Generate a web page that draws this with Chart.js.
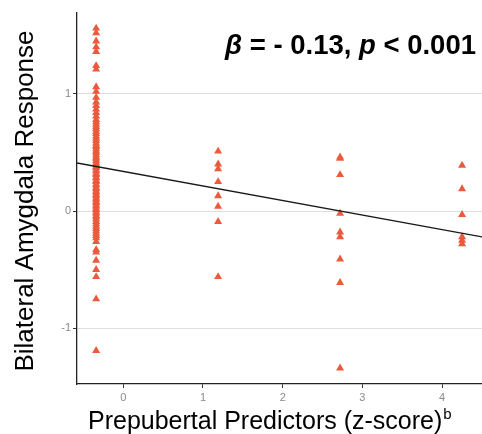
<!DOCTYPE html>
<html>
<head>
<meta charset="utf-8">
<script src="https://cdn.jsdelivr.net/npm/chart.js@4"></script>
<style>
  html, body { margin:0; padding:0; background:#ffffff; }
  #wrap { width:482px; height:434px; }
</style>
</head>
<body>
<div id="wrap"><canvas id="chartAmy" width="482" height="434"></canvas></div>
<script>
/* prepubertal predictors vs bilateral amygdala response */

const groupX = [-0.34, 1.19, 2.72, 4.25];

const responsesG1 = [
    1.56, 1.52, 1.45, 1.40, 1.36, 1.24, 1.21, 1.06, 1.02, 0.97, 0.93, 0.90, 0.87,
    0.84, 0.81, 0.78, 0.76, 0.74, 0.72, 0.70, 0.68, 0.66, 0.64, 0.62, 0.60,
    0.58, 0.56, 0.55, 0.53, 0.51, 0.50, 0.48, 0.46, 0.45, 0.43, 0.41, 0.40,
    0.38, 0.37, 0.35, 0.34, 0.32, 0.31, 0.29, 0.28, 0.26, 0.25, 0.23, 0.22,
    0.20, 0.19, 0.17, 0.16, 0.14, 0.13, 0.11, 0.10, 0.08, 0.07, 0.05, 0.04,
    0.02, 0.01, -0.01, -0.02, -0.04, -0.05, -0.07, -0.09, -0.11, -0.13, -0.15,
    -0.17, -0.19, -0.21, -0.23, -0.26, -0.33, -0.35, -0.42, -0.50, -0.56,
    -0.75, -1.19
];
const responsesG2 = [0.51, 0.40, 0.36, 0.25, 0.13, 0.04, -0.09, -0.56];
const responsesG3 = [0.46, 0.45, 0.31, -0.02, -0.18, -0.22, -0.41, -0.61, -1.34];
const responsesG4 = [0.39, 0.19, -0.03, -0.22, -0.25, -0.28];

const fitLine = [
    { x: -0.58, y: 0.41 },
    { x: 4.5, y: -0.22 }
];

const yTicks = [-1, 0, 1];
const xTicks = [0, 1, 2, 3, 4];

const yTitle = "Bilateral Amygdala Response";
const xTitle = "Prepubertal Predictors (z-score)";
const xTitleSup = "b";

const FONT = "'Liberation Sans', Arial, Helvetica, sans-serif";

function buildPoints() {
    const groups = [responsesG1, responsesG2, responsesG3, responsesG4];
    const pts = [];
    groups.forEach((g, i) => {
        g.forEach(v => pts.push({ x: groupX[i], y: v }));
    });
    return pts;
}

const textPlugin = {
    id: "textPlugin",
    afterDraw(chart) {
        const ctx = chart.ctx;
        ctx.save();
        ctx.fillStyle = "#000";
        ctx.textBaseline = "alphabetic";

        // y title
        ctx.save();
        ctx.font = "26px " + FONT;
        ctx.translate(33, 201);
        ctx.rotate(-Math.PI / 2);
        ctx.textAlign = "center";
        ctx.fillText(yTitle, 0, 0);
        ctx.restore();

        // x title
        ctx.font = "25px " + FONT;
        ctx.textAlign = "left";
        ctx.fillText(xTitle, 88, 429);
        const w = ctx.measureText(xTitle).width;
        ctx.font = "15px " + FONT;
        ctx.fillText(xTitleSup, 88 + w + 1, 419);

        // annotation
        const parts = [
            ["bold italic", "\u03B2"],
            ["bold", " = - 0.13, "],
            ["bold italic", "p"],
            ["bold", " < 0.001"]
        ];
        let x = 225;
        parts.forEach(p => {
            ctx.font = p[0] + " 27.5px " + FONT;
            ctx.fillText(p[1], x, 54);
            x += ctx.measureText(p[1]).width;
        });
        ctx.restore();
    }
};

const ctx = document.getElementById("chartAmy").getContext("2d");

new Chart(ctx, {
    type: "scatter",
    data: {
        datasets: [
            {
                type: "line",
                data: fitLine,
                borderColor: "#1a1a1a",
                borderWidth: 1.4,
                pointRadius: 0,
                fill: false,
                order: 0
            },
            {
                data: buildPoints(),
                pointStyle: "triangle",
                pointRadius: 4.6,
                backgroundColor: "#EA5A3D",
                borderColor: "#EA5A3D",
                borderWidth: 0,
                order: 1
            }
        ]
    },
    options: {
        responsive: false,
        animation: false,
        layout: {
            autoPadding: false,
            padding: { top: 13, right: 0, left: 0, bottom: 0 }
        },
        plugins: {
            legend: { display: false },
            tooltip: { enabled: false }
        },
        scales: {
            x: {
                type: "linear",
                min: -0.58,
                max: 4.5,
                afterFit(scale) {
                    scale.height = 50;
                    scale.paddingLeft = 0;
                    scale.paddingRight = 0;
                },
                afterBuildTicks(scale) { scale.ticks = xTicks.map(v => ({ value: v })); },
                ticks: {
                    color: "#8a8a8a",
                    font: { size: 11, family: FONT },
                    padding: 3
                },
                grid: {
                    drawOnChartArea: false,
                    tickColor: "#333",
                    tickLength: 4
                },
                border: { display: true, color: "#222", width: 1.3 }
            },
            y: {
                min: -1.475,
                max: 1.69,
                afterFit(scale) {
                    scale.width = 77;
                    scale.paddingTop = 0;
                    scale.paddingBottom = 0;
                },
                afterBuildTicks(scale) { scale.ticks = yTicks.map(v => ({ value: v })); },
                ticks: {
                    color: "#8a8a8a",
                    font: { size: 11, family: FONT },
                    padding: 2
                },
                grid: {
                    color: "#dedede",
                    lineWidth: 1,
                    tickColor: "#333",
                    tickLength: 4
                },
                border: { display: true, color: "#222", width: 1.3 }
            }
        }
    },
    plugins: [textPlugin]
});
</script>
</body>
</html>
